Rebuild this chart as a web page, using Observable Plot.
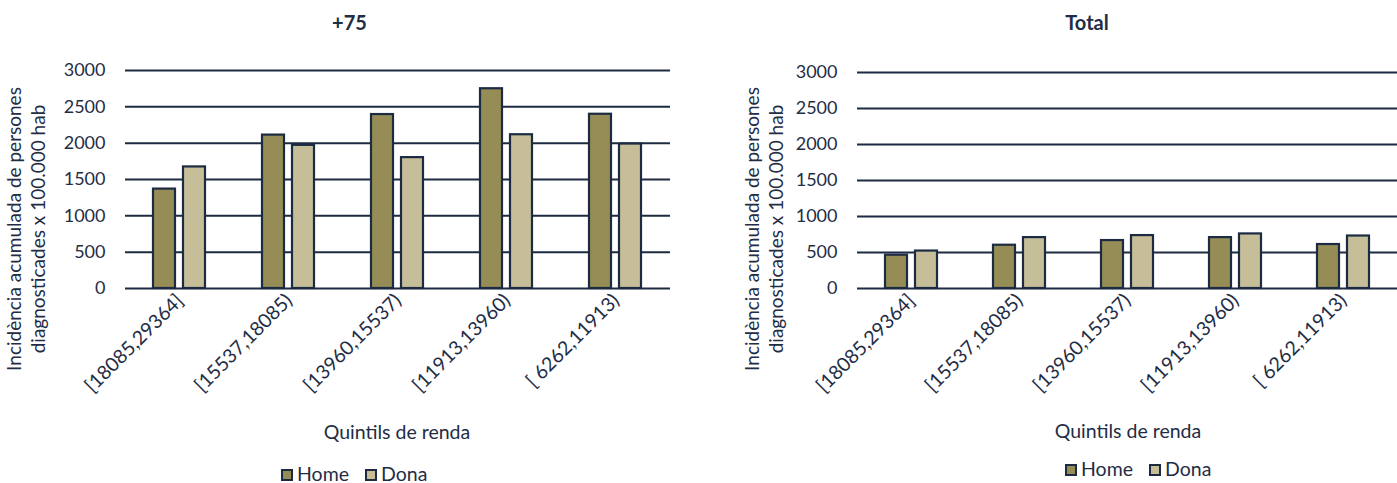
<!DOCTYPE html>
<html>
<head>
<meta charset="utf-8">
<script src="https://cdn.jsdelivr.net/npm/d3@7"></script>
<script src="https://cdn.jsdelivr.net/npm/@observablehq/plot@0.6"></script>
<style>
  html, body { margin: 0; padding: 0; background: #fff; }
  #wrap { position: relative; width: 1397px; height: 483px; overflow: hidden; font-family: Lato, sans-serif; }
  .panel { position: absolute; top: 0; }
  #overlay { position: absolute; left: 0; top: 0; pointer-events: none; }
  .panel [aria-label^="fx-axis"], .panel [aria-label^="fx-axis"] text { font-size: 19.5px; }
</style>
</head>
<body>
<div id="wrap">
  <div id="left" class="panel" style="left:0px"></div>
  <div id="right" class="panel" style="left:698px"></div>
</div>
<script>
// ---- data ----
const quintils = ["[18085,29364]", "[15537,18085)", "[13960,15537)", "[11913,13960)", "[ 6262,11913)"];
const sexes = ["Home", "Dona"];
const home75 = [1368, 2111, 2394, 2749, 2398];
const dona75 = [1673, 1970, 1801, 2116, 1988];
const homeTotal = [463, 601, 666, 707, 611];
const donaTotal = [520, 707, 735, 758, 729];
const yTicks = [0, 500, 1000, 1500, 2000, 2500, 3000];
const panelTitles = ["+75", "Total"];
const yTitle = ["Incidència acumulada de persones", "diagnosticades x 100.000 hab"];
const xTitle = "Quintils de renda";

// ---- style ----
const colors = ["#968c55", "#c6be99"];
const ink = "#1c2b42";
const textColor = "#1f2d45";

function rows(home, dona) {
  const out = [];
  quintils.forEach((q, i) => {
    out.push({q, sex: "Home", value: home[i]});
    out.push({q, sex: "Dona", value: dona[i]});
  });
  return out;
}

function chart(data, opts) {
  return Plot.plot({
    width: opts.width,
    height: 400,
    marginLeft: opts.marginLeft,
    marginRight: opts.marginRight,
    marginTop: opts.marginTop,
    marginBottom: 400 - 288,
    style: {fontFamily: "Lato, sans-serif", fontSize: "18px", color: textColor, background: "transparent", overflow: "visible"},
    fx: {domain: quintils, padding: 0, label: null, axis: "bottom", tickRotate: -45, tickSize: 0, tickPadding: 9},
    x: {domain: sexes, axis: null, paddingInner: 0.26, paddingOuter: 0.89},
    y: {domain: [0, 3000], ticks: yTicks, tickSize: 0, tickPadding: 20, label: null, tickFormat: d => String(d)},
    color: {domain: sexes, range: colors},
    marks: [
      Plot.ruleY(yTicks, {stroke: ink, strokeWidth: 2}),
      Plot.barY(data, {fx: "q", x: "sex", y: "value", fill: "sex", stroke: ink, strokeWidth: 2.2, inset: 0})
    ]
  });
}

document.getElementById("left").appendChild(
  chart(rows(home75, dona75), {width: 698, marginLeft: 124, marginRight: 28, marginTop: 70})
);
document.getElementById("right").appendChild(
  chart(rows(homeTotal, donaTotal), {width: 699, marginLeft: 159, marginRight: 0, marginTop: 72})
);

// ---- overlay text: titles, axis titles, legends ----
const svg = d3.select("#wrap").append("svg").attr("id", "overlay")
  .attr("width", 1397).attr("height", 483)
  .style("font-family", "Lato, sans-serif").style("fill", textColor);

const layout = [
  {title: [349.5, 29.5], yt: [21, 45, 229], xt: [397, 439], lg: [281, 469]},
  {title: [1087, 29.5], yt: [759, 783, 229], xt: [1128, 438], lg: [1065, 464]}
];

layout.forEach((L, i) => {
  svg.append("text").attr("x", L.title[0]).attr("y", L.title[1])
    .attr("text-anchor", "middle").attr("font-weight", "bold").attr("font-size", 20)
    .text(panelTitles[i]);
  yTitle.forEach((line, j) => {
    svg.append("text")
      .attr("transform", `translate(${L.yt[j]},${L.yt[2]}) rotate(-90)`)
      .attr("text-anchor", "middle").attr("font-size", 19)
      .text(line);
  });
  svg.append("text").attr("x", L.xt[0]).attr("y", L.xt[1])
    .attr("text-anchor", "middle").attr("font-size", 19.5).text(xTitle);
  const offs = [0, 84];
  sexes.forEach((s, k) => {
    const x0 = L.lg[0] + offs[k];
    svg.append("rect").attr("x", x0 + 1).attr("y", L.lg[1] + 1).attr("width", 10).attr("height", 10)
      .attr("fill", colors[k]).attr("stroke", ink).attr("stroke-width", 2);
    svg.append("text").attr("x", x0 + 16).attr("y", L.lg[1] + 11.5)
      .attr("font-size", 19.5).text(s);
  });
});
</script>
</body>
</html>
